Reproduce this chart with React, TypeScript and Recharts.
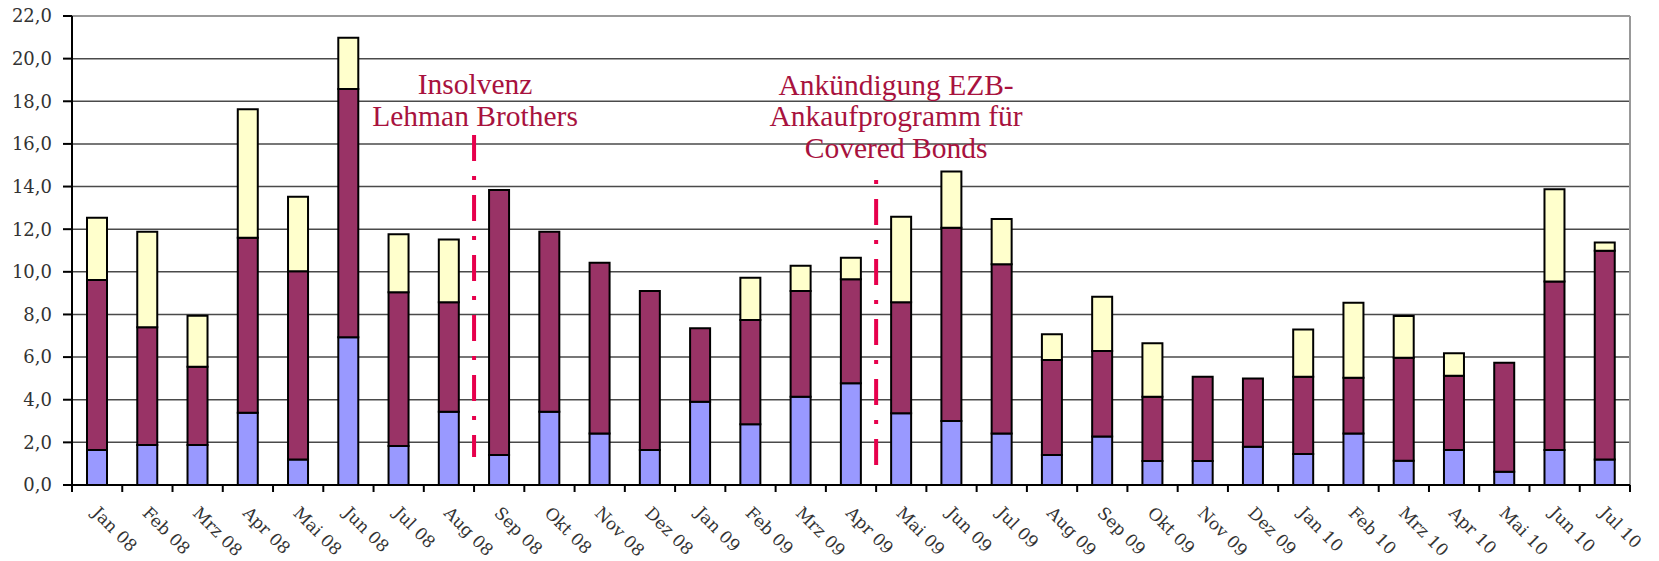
import React from 'react';
import { BarChart, Bar, XAxis, YAxis, CartesianGrid, ReferenceLine } from 'recharts';

const months = [
  'Jan 08', 'Feb 08', 'Mrz 08', 'Apr 08', 'Mai 08', 'Jun 08', 'Jul 08', 'Aug 08',
  'Sep 08', 'Okt 08', 'Nov 08', 'Dez 08', 'Jan 09', 'Feb 09', 'Mrz 09', 'Apr 09',
  'Mai 09', 'Jun 09', 'Jul 09', 'Aug 09', 'Sep 09', 'Okt 09', 'Nov 09', 'Dez 09',
  'Jan 10', 'Feb 10', 'Mrz 10', 'Apr 10', 'Mai 10', 'Jun 10', 'Jul 10',
];

const blueValues = [
  1.64, 1.88, 1.88, 3.39, 1.2, 6.93, 1.83, 3.44,
  1.41, 3.44, 2.42, 1.64, 3.91, 2.85, 4.14, 4.77,
  3.36, 3.0, 2.42, 1.41, 2.27, 1.13, 1.13, 1.8,
  1.45, 2.42, 1.14, 1.64, 0.62, 1.64, 1.2,
];

const maroonValues = [
  7.98, 5.52, 3.67, 8.21, 8.83, 11.64, 7.21, 5.13,
  12.43, 8.44, 8.01, 7.46, 3.44, 4.89, 4.96, 4.88,
  5.21, 9.07, 7.93, 4.45, 4.02, 3.01, 3.95, 3.2,
  3.63, 2.61, 4.83, 3.49, 5.12, 7.9, 9.79,
];

const yellowValues = [
  2.92, 4.48, 2.39, 6.02, 3.49, 2.41, 2.72, 2.95,
  0, 0, 0, 0, 0, 1.98, 1.19, 1.01,
  4.01, 2.63, 2.13, 1.21, 2.54, 2.51, 0, 0,
  2.22, 3.52, 1.96, 1.05, 0, 4.33, 0.39,
];

const yTicks = [0, 2, 4, 6, 8, 10, 12, 14, 16, 18, 20, 22];

// event markers: drawn at the left edge of the given month
const lehmanMonth = 'Sep 08';
const lehmanRange = [16.42, 1.31];
const lehmanText = ['Insolvenz', 'Lehman Brothers'];

const ezbMonth = 'Mai 09';
const ezbRange = [14.31, 0.84];
const ezbText = ['Ankündigung EZB-', 'Ankaufprogramm für', 'Covered Bonds'];

const data = months.map((m, i) => ({
  month: m,
  a: blueValues[i],
  b: maroonValues[i],
  c: yellowValues[i],
}));

const WIDTH = 1659;
const HEIGHT = 561;
const PLOT_LEFT = 72;
const PLOT_RIGHT = 1630;
const BAND = (PLOT_RIGHT - PLOT_LEFT) / months.length;
const SERIF = '"DejaVu Serif", serif';

const fmt = (v: number) => v.toFixed(1).replace('.', ',');

const MonthTick = (props: any) => {
  const { x, y, payload, index } = props;
  const half = payload && payload.offset ? payload.offset : BAND / 2;
  const tx = x - 6;
  const ty = y + 29;
  return (
    <g>
      <line x1={x + half} y1={y} x2={x + half} y2={y + 7} stroke="#000" strokeWidth={2} />
      {index === 0 && (
        <line x1={x - half} y1={y} x2={x - half} y2={y + 7} stroke="#000" strokeWidth={2} />
      )}
      <text
        x={tx}
        y={ty}
        transform={`rotate(45, ${tx}, ${ty})`}
        textAnchor="start"
        fill="#333"
        fontSize={17}
        fontFamily={SERIF}
      >
        {payload.value}
      </text>
    </g>
  );
};

const makeLabel = (lines: string[], dx: number, gap: number) => (props: any) => {
  const { viewBox } = props;
  const cx = viewBox.x + dx;
  const top = viewBox.y;
  return (
    <text textAnchor="middle" fill="#A8123E" fontSize={29.5} fontFamily='"Liberation Serif", serif'>
      {lines.map((l, i) => (
        <tspan key={i} x={cx} y={top - gap - (lines.length - 1 - i) * 31.7}>
          {l}
        </tspan>
      ))}
    </text>
  );
};

export default function App() {
  return (
    <div style={{ position: 'absolute', left: 0, top: 0, width: WIDTH, height: HEIGHT, background: '#fff' }}>
      <BarChart
        width={WIDTH}
        height={HEIGHT}
        data={data}
        margin={{ top: 16, right: WIDTH - PLOT_RIGHT, bottom: 0, left: 0 }}
        barSize={20}
      >
        <CartesianGrid vertical={false} stroke="#4a4a4a" strokeWidth={1.5} />
        <XAxis
          dataKey="month"
          height={76}
          interval={0}
          tickSize={0}
          tickMargin={0}
          tickLine={false}
          axisLine={{ stroke: '#000', strokeWidth: 2 }}
          tick={<MonthTick />}
        />
        <YAxis
          width={PLOT_LEFT}
          domain={[0, 22]}
          ticks={yTicks}
          interval={0}
          tickFormatter={fmt}
          tickSize={9}
          tickMargin={11}
          tickLine={{ stroke: '#000', strokeWidth: 2 }}
          axisLine={{ stroke: '#000', strokeWidth: 2 }}
          tick={{ fill: '#333', fontSize: 18, fontFamily: SERIF }}
        />
        <Bar dataKey="a" stackId="s" fill="#9999FF" stroke="#000" strokeWidth={2} isAnimationActive={false} />
        <Bar dataKey="b" stackId="s" fill="#993366" stroke="#000" strokeWidth={2} isAnimationActive={false} />
        <Bar dataKey="c" stackId="s" fill="#FFFFCC" stroke="#000" strokeWidth={2} isAnimationActive={false} />
        <ReferenceLine y={22} stroke="#999" strokeWidth={2} />
        <ReferenceLine x="Jul 10" position="end" stroke="#999" strokeWidth={2} />
        <ReferenceLine
          segment={[
            { x: lehmanMonth, y: lehmanRange[0] },
            { x: lehmanMonth, y: lehmanRange[1] },
          ]}
          position="start"
          stroke="#E6004C"
          strokeWidth={4}
          strokeDasharray="26 15 4 15"
          label={makeLabel(lehmanText, 1, 9)}
        />
        <ReferenceLine
          segment={[
            { x: ezbMonth, y: ezbRange[0] },
            { x: ezbMonth, y: ezbRange[1] },
          ]}
          position="start"
          stroke="#E6004C"
          strokeWidth={4}
          strokeDasharray="4 15 26 15"
          label={makeLabel(ezbText, 20, 22)}
        />
      </BarChart>
    </div>
  );
}
